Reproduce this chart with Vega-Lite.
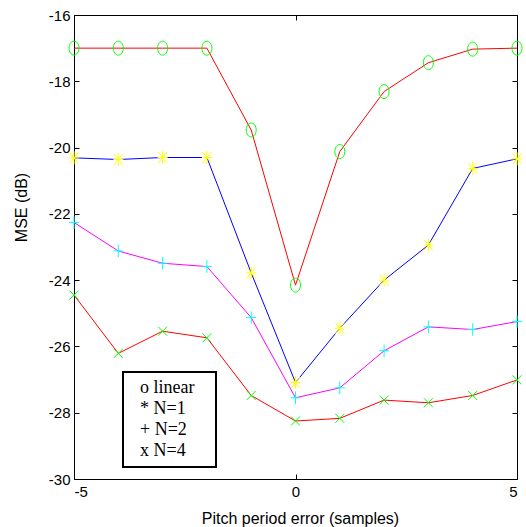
{
  "$schema": "https://vega.github.io/schema/vega-lite/v6.json",
  "width": 443,
  "height": 464,
  "autosize": {"type": "none"},
  "padding": {"left": 74, "top": 15, "right": 9, "bottom": 48},
  "background": "white",
  "config": {
    "view": {"stroke": "black", "strokeWidth": 1},
    "axis": {"labelFont": "Liberation Sans", "labelFontSize": 15, "labelColor": "black", "titleFont": "Liberation Sans", "titleFontSize": 16, "titleFontWeight": "normal", "titleColor": "black", "tickColor": "black", "grid": false, "domain": false},
    "legend": {"strokeWidth": 2}
  },
  "data": {
    "values": [
      {"x": -5, "y": -17.0, "s": "o linear"}, {"x": -4, "y": -17.0, "s": "o linear"}, {"x": -3, "y": -17.0, "s": "o linear"}, {"x": -2, "y": -17.0, "s": "o linear"}, {"x": -1, "y": -19.47, "s": "o linear"}, {"x": 0, "y": -24.15, "s": "o linear"}, {"x": 1, "y": -20.12, "s": "o linear"}, {"x": 2, "y": -18.31, "s": "o linear"}, {"x": 3, "y": -17.44, "s": "o linear"}, {"x": 4, "y": -17.03, "s": "o linear"}, {"x": 5, "y": -17.0, "s": "o linear"},
      {"x": -5, "y": -20.31, "s": "* N=1"}, {"x": -4, "y": -20.36, "s": "* N=1"}, {"x": -3, "y": -20.30, "s": "* N=1"}, {"x": -2, "y": -20.30, "s": "* N=1"}, {"x": -1, "y": -23.78, "s": "* N=1"}, {"x": 0, "y": -27.09, "s": "* N=1"}, {"x": 1, "y": -25.45, "s": "* N=1"}, {"x": 2, "y": -24.0, "s": "* N=1"}, {"x": 3, "y": -22.94, "s": "* N=1"}, {"x": 4, "y": -20.63, "s": "* N=1"}, {"x": 5, "y": -20.34, "s": "* N=1"},
      {"x": -5, "y": -22.26, "s": "+ N=2"}, {"x": -4, "y": -23.12, "s": "+ N=2"}, {"x": -3, "y": -23.49, "s": "+ N=2"}, {"x": -2, "y": -23.59, "s": "+ N=2"}, {"x": -1, "y": -25.13, "s": "+ N=2"}, {"x": 0, "y": -27.55, "s": "+ N=2"}, {"x": 1, "y": -27.25, "s": "+ N=2"}, {"x": 2, "y": -26.13, "s": "+ N=2"}, {"x": 3, "y": -25.41, "s": "+ N=2"}, {"x": 4, "y": -25.49, "s": "+ N=2"}, {"x": 5, "y": -25.25, "s": "+ N=2"},
      {"x": -5, "y": -24.45, "s": "x N=4"}, {"x": -4, "y": -26.21, "s": "x N=4"}, {"x": -3, "y": -25.54, "s": "x N=4"}, {"x": -2, "y": -25.74, "s": "x N=4"}, {"x": -1, "y": -27.48, "s": "x N=4"}, {"x": 0, "y": -28.25, "s": "x N=4"}, {"x": 1, "y": -28.17, "s": "x N=4"}, {"x": 2, "y": -27.62, "s": "x N=4"}, {"x": 3, "y": -27.70, "s": "x N=4"}, {"x": 4, "y": -27.48, "s": "x N=4"}, {"x": 5, "y": -27.01, "s": "x N=4"}
    ]
  },
  "layer": [
    {
      "mark": {"type": "line", "strokeWidth": 1, "clip": true},
      "encoding": {
        "x": {"field": "x", "type": "quantitative", "scale": {"domain": [-5, 5], "nice": false, "zero": false},
          "axis": {"orient": "bottom", "values": [-5, 0, 5], "tickSize": -5, "labelPadding": 10, "labelExpr": "'' + datum.value", "title": "Pitch period error (samples)", "titleX": 226, "titleY": 31, "titleBaseline": "top"}},
        "y": {"field": "y", "type": "quantitative", "scale": {"domain": [-30, -16], "nice": false, "zero": false},
          "axis": {"orient": "left", "values": [-30, -28, -26, -24, -22, -20, -18, -16], "tickSize": -5, "labelPadding": 9, "labelExpr": "'' + datum.value", "title": "MSE (dB)", "titleX": -45, "titleY": 192}},
        "color": {"field": "s", "type": "nominal",
          "scale": {"domain": ["o linear", "* N=1", "+ N=2", "x N=4"], "range": ["#ff0000", "#0000ff", "#ff00ff", "#ff0000"]},
          "legend": {"orient": "none", "legendX": 49, "legendY": 357, "title": ".", "titleOrient": "right", "titlePadding": 12, "titleFontSize": 10, "titleOpacity": 0, "symbolSize": 0, "symbolOpacity": 0, "symbolStrokeWidth": 0, "labelFont": "Liberation Serif", "labelFontSize": 18, "labelColor": "black", "labelOffset": -8, "padding": 7, "rowPadding": 3, "strokeColor": "black", "fillColor": "white"}}
      }
    },
    {
      "mark": {"type": "point", "filled": false, "strokeWidth": 1, "size": 100, "opacity": 1, "clip": false},
      "encoding": {
        "x": {"field": "x", "type": "quantitative", "scale": {"domain": [-5, 5], "nice": false, "zero": false},
          "axis": {"orient": "top", "values": [-5, 0, 5], "tickSize": -5, "labels": false, "title": null}},
        "y": {"field": "y", "type": "quantitative", "scale": {"domain": [-30, -16], "nice": false, "zero": false},
          "axis": {"orient": "right", "values": [-30, -28, -26, -24, -22, -20, -18, -16], "tickSize": -5, "labels": false, "title": null}},
        "color": {"field": "s", "type": "nominal",
          "scale": {"domain": ["o linear", "* N=1", "+ N=2", "x N=4"], "range": ["#00ff00", "#ffff00", "#00ffff", "#00ff00"]}, "legend": null},
        "shape": {"field": "s", "type": "nominal",
          "scale": {"domain": ["o linear", "* N=1", "+ N=2", "x N=4"], "range": ["M-1,0A1,1.4 0 1,1 1,0A1,1.4 0 1,1 -1,0Z", "M-1,0L1,0M0,-1.3L0,1.3M-0.9,-1.1L0.9,1.1M-0.9,1.1L0.9,-1.1", "M-1,0L1,0M0,-1.25L0,1.25", "M-0.9,-0.9L0.9,0.9M-0.9,0.9L0.9,-0.9"]}, "legend": null}
      }
    }
  ],
  "resolve": {"scale": {"color": "independent"}, "axis": {"x": "independent", "y": "independent"}}
}
